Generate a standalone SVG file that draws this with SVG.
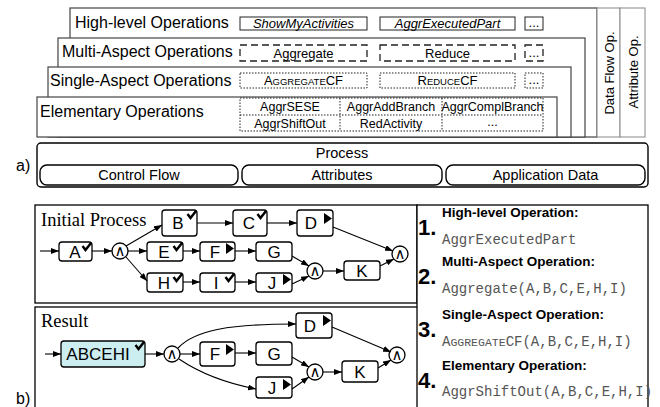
<svg xmlns="http://www.w3.org/2000/svg" width="660" height="407" viewBox="0 0 660 407">
<style>
text{font-family:"Liberation Sans",Arial,sans-serif;fill:#000}
.layer{fill:#fff;stroke:#444;stroke-width:1.2}
.col{fill:#fff;stroke:#888;stroke-width:1}
.lt{font-size:16px}
.hl{fill:#fff;stroke:#222;stroke-width:1}
.ma{fill:#fff;stroke:#222;stroke-width:1.3;stroke-dasharray:7 4}
.sa{fill:#fff;stroke:#222;stroke-width:1;stroke-dasharray:1.5 1.5}
.dl{fill:none;stroke:#222;stroke-width:1;stroke-dasharray:1.5 1.5}
.ot{font-size:13px;text-anchor:middle}
.it{font-style:italic}
.et{font-size:12.5px;text-anchor:middle}
.pt{font-size:14.5px;text-anchor:middle}
.proc{fill:#fff;stroke:#000;stroke-width:1.4}
.panel{fill:#fff;stroke:#000;stroke-width:1.3}
.pl{font-family:"Liberation Serif","Times New Roman",serif;font-size:18.5px}
.nd{fill:#fff;stroke:#000;stroke-width:1.3}
.res{fill:#cdeef0;stroke:#000;stroke-width:1.3}
.nt{font-size:17px;text-anchor:middle}
.gw{fill:#fff;stroke:#000;stroke-width:1.3}
.gt{font-family:"DejaVu Sans",sans-serif;font-size:15px;text-anchor:middle}
.chk{fill:none;stroke:#000;stroke-width:2.5;stroke-linejoin:miter}
.play{fill:#000}
.edge{fill:none;stroke:#000;stroke-width:1.1;marker-end:url(#arr)}
.num{font-size:22px;font-weight:bold}
.ttl{font-size:13.5px;font-weight:bold}
.mono{font-family:"Liberation Mono","Courier New",monospace;font-size:14px;fill:#555}
.lab{font-size:16px}
</style>
<defs>
<marker id="arr" markerWidth="8" markerHeight="6" refX="8" refY="3" orient="auto" markerUnits="userSpaceOnUse">
<path d="M0,0 L8,3 L0,6 z" fill="#000"/>
</marker>
<path id="chk" class="chk" d="M-9.5,4 L-6.5,8 L-1,1"/>
<path id="play" class="play" d="M-9,2 L-1,7.5 L-9,13 z"/>
</defs>

<!-- Panel a: layers -->
<g id="layer-high">
<rect class="layer" x="70" y="8" width="527" height="129"/>
<text class="lt" x="75" y="28">High-level Operations</text>
<rect class="hl" x="240" y="17" width="127" height="13"/>
<text class="ot it" x="303.5" y="28">ShowMyActivities</text>
<rect class="hl" x="380" y="17" width="135" height="13"/>
<text class="ot it" x="447.5" y="28">AggrExecutedPart</text>
<rect class="hl" x="525" y="17" width="18" height="13"/>
<text class="ot" x="534" y="27" font-size="10">...</text>
</g>
<g id="layer-multi">
<rect class="layer" x="58" y="38" width="527" height="99"/>
<text class="lt" x="62" y="57">Multi-Aspect Operations</text>
<rect class="ma" x="240" y="45" width="127" height="16"/>
<text class="ot" x="303.5" y="57.5">Aggregate</text>
<rect class="ma" x="380" y="45" width="135" height="16"/>
<text class="ot" x="447.5" y="57.5">Reduce</text>
<rect class="ma" x="525" y="45" width="18" height="16"/>
<text class="ot" x="534" y="57" font-size="10">...</text>
</g>
<g id="layer-single">
<rect class="layer" x="48" y="67" width="523" height="70"/>
<text class="lt" x="50" y="86">Single-Aspect Operations</text>
<rect class="sa" x="240" y="73" width="127" height="15"/>
<text class="ot" x="303.5" y="85">A<tspan font-size="9.5">GGREGATE</tspan>CF</text>
<rect class="sa" x="380" y="73" width="135" height="15"/>
<text class="ot" x="447.5" y="85">R<tspan font-size="9.5">EDUCE</tspan>CF</text>
<rect class="sa" x="525" y="73" width="18" height="15"/>
<text class="ot" x="534" y="84" font-size="10">...</text>
</g>
<g id="layer-elementary">
<rect class="layer" x="37" y="97" width="520" height="40"/>
<text class="lt" x="40" y="117">Elementary Operations</text>
<rect class="sa" x="240" y="98" width="303" height="33"/>
<path class="dl" d="M240,115 H543 M340,98 V131 M442,98 V131"/>
<text class="et" x="290" y="111">AggrSESE</text>
<text class="et" x="391" y="111">AggrAddBranch</text>
<text class="et" x="492.5" y="111" font-size="11.3">AggrComplBranch</text>
<text class="et" x="290" y="127.5">AggrShiftOut</text>
<text class="et" x="391" y="127.5">RedActivity</text>
<text class="et" x="492.5" y="126">...</text>
</g>
<g id="col-dataflow">
<rect class="col" x="597" y="8" width="23" height="129"/>
<text font-size="13" text-anchor="middle" transform="translate(613.5,73) rotate(-90)">Data Flow Op.</text>
</g>
<g id="col-attribute">
<rect class="col" x="620" y="8" width="25" height="129"/>
<text font-size="13" text-anchor="middle" transform="translate(637.5,72) rotate(-90)">Attribute Op.</text>
</g>

<g id="process">
<rect class="proc" x="37" y="143" width="611" height="44" rx="4"/>
<text class="pt" x="342" y="158">Process</text>
<rect class="proc" x="40" y="165" width="198" height="20" rx="7"/>
<text class="pt" x="139" y="180">Control Flow</text>
<rect class="proc" x="242" y="165" width="200" height="20" rx="7"/>
<text class="pt" x="342" y="180">Attributes</text>
<rect class="proc" x="446" y="165" width="199" height="20" rx="7"/>
<text class="pt" x="545.5" y="180">Application Data</text>
</g>
<text class="lab" x="16" y="171">a)</text>

<!-- Panel b -->
<g id="panel-initial">
<rect class="panel" x="35" y="205" width="382" height="98"/>
<text class="pl" x="41" y="226">Initial Process</text>
</g>
<g id="panel-result">
<rect class="panel" x="35" y="307" width="383" height="105"/>
<text class="pl" x="41" y="327">Result</text>
</g>
<g id="panel-ops">
<rect class="panel" x="417" y="205" width="231" height="207"/>
<text class="num" x="418" y="235">1.</text>
<text class="ttl" x="442" y="217">High-level Operation:</text>
<text class="mono" x="442" y="244">AggrExecutedPart</text>
<text class="num" x="418" y="284">2.</text>
<text class="ttl" x="442" y="266">Multi-Aspect Operation:</text>
<text class="mono" x="442" y="293">Aggregate(A,B,C,E,H,I)</text>
<text class="num" x="418" y="337">3.</text>
<text class="ttl" x="442" y="319">Single-Aspect Operation:</text>
<text class="mono" x="442" y="346">A<tspan font-size="11.5">GGREGATE</tspan>CF(A,B,C,E,H,I)</text>
<text class="num" x="418" y="388">4.</text>
<text class="ttl" x="442" y="370">Elementary Operation:</text>
<text class="mono" x="442" y="396">AggrShiftOut(A,B,C,E,H,I)</text>
</g>
<text class="lab" x="16" y="404">b)</text>

<!-- Initial process nodes -->
<g id="i-A"><rect class="nd" x="59" y="242" width="33" height="19" rx="3"/><text class="nt" x="75" y="258">A</text><use href="#chk" x="92" y="242"/></g>
<g id="i-g1"><circle class="gw" cx="120" cy="251" r="8"/><text class="gt" x="120" y="256">∧</text></g>
<g id="i-B"><rect class="nd" x="162" y="210" width="35" height="26" rx="3"/><text class="nt" x="178" y="229">B</text><use href="#chk" x="197" y="210"/></g>
<g id="i-C"><rect class="nd" x="233" y="210" width="34" height="26" rx="3"/><text class="nt" x="249" y="229">C</text><use href="#chk" x="267" y="210"/></g>
<g id="i-D"><rect class="nd" x="297" y="210" width="36" height="26" rx="3"/><text class="nt" x="311" y="229">D</text><use href="#play" x="333" y="211"/></g>
<g id="i-E"><rect class="nd" x="147" y="242" width="36" height="19" rx="3"/><text class="nt" x="164" y="258">E</text><use href="#chk" x="183" y="242"/></g>
<g id="i-F"><rect class="nd" x="200" y="242" width="35" height="19" rx="3"/><text class="nt" x="215" y="258">F</text><use href="#play" x="235" y="241"/></g>
<g id="i-G"><rect class="nd" x="256" y="242" width="36" height="19" rx="3"/><text class="nt" x="274" y="258">G</text></g>
<g id="i-H"><rect class="nd" x="147" y="273" width="36" height="19" rx="3"/><text class="nt" x="164" y="289">H</text><use href="#chk" x="183" y="273"/></g>
<g id="i-I"><rect class="nd" x="200" y="273" width="35" height="19" rx="3"/><text class="nt" x="216" y="289">I</text><use href="#chk" x="235" y="273"/></g>
<g id="i-J"><rect class="nd" x="256" y="273" width="36" height="19" rx="3"/><text class="nt" x="272" y="289">J</text><use href="#play" x="292" y="272"/></g>
<g id="i-g2"><circle class="gw" cx="315" cy="271" r="8"/><text class="gt" x="315" y="276">∧</text></g>
<g id="i-K"><rect class="nd" x="344" y="261" width="36" height="19" rx="3"/><text class="nt" x="362" y="277">K</text></g>
<g id="i-g3"><circle class="gw" cx="400" cy="254" r="8"/><text class="gt" x="400" y="259">∧</text></g>

<!-- Result nodes -->
<g id="r-ABCEHI"><rect class="res" x="61" y="341" width="84" height="26" rx="3"/><text class="nt" x="98" y="360">ABCEHI</text><use href="#chk" x="145" y="341"/></g>
<g id="r-g1"><circle class="gw" cx="172" cy="354" r="8"/><text class="gt" x="172" y="359">∧</text></g>
<g id="r-D"><rect class="nd" x="296" y="313" width="36" height="25" rx="3"/><text class="nt" x="310" y="332">D</text><use href="#play" x="332" y="313"/></g>
<g id="r-F"><rect class="nd" x="200" y="342" width="35" height="24" rx="3"/><text class="nt" x="215" y="360">F</text><use href="#play" x="235" y="342"/></g>
<g id="r-G"><rect class="nd" x="256" y="342" width="36" height="23" rx="3"/><text class="nt" x="274" y="360">G</text></g>
<g id="r-J"><rect class="nd" x="256" y="377" width="36" height="21" rx="3"/><text class="nt" x="272" y="394">J</text><use href="#play" x="292" y="377"/></g>
<g id="r-g2"><circle class="gw" cx="315" cy="372" r="8"/><text class="gt" x="315" y="377">∧</text></g>
<g id="r-K"><rect class="nd" x="342" y="361" width="36" height="21" rx="3"/><text class="nt" x="360" y="378">K</text></g>
<g id="r-g3"><circle class="gw" cx="397" cy="355" r="8"/><text class="gt" x="397" y="360">∧</text></g>

<g id="connectors">
<path class="edge" d="M40,251 H59"/>
<path class="edge" d="M92,251 H112"/>
<path class="edge" d="M126,246 L162,225"/>
<path class="edge" d="M128,251 H147"/>
<path class="edge" d="M126,257 L147,281"/>
<path class="edge" d="M197,223 H233"/>
<path class="edge" d="M267,223 H297"/>
<path class="edge" d="M333,227 L393,251"/>
<path class="edge" d="M183,251 H200"/>
<path class="edge" d="M235,251 H256"/>
<path class="edge" d="M183,282 H200"/>
<path class="edge" d="M235,282 H256"/>
<path class="edge" d="M292,256 L309,266"/>
<path class="edge" d="M292,284 L309,276"/>
<path class="edge" d="M323,271 H344"/>
<path class="edge" d="M380,266 L394,259"/>

<path class="edge" d="M45,354 H61"/>
<path class="edge" d="M145,354 H164"/>
<path class="edge" d="M180,354 H200"/>
<path class="edge" d="M178,348 C195,330 230,324 296,324"/>
<path class="edge" d="M179,359 Q210,380 256,389"/>
<path class="edge" d="M235,353 H256"/>
<path class="edge" d="M292,357 L309,367"/>
<path class="edge" d="M292,389 L309,377"/>
<path class="edge" d="M323,372 H342"/>
<path class="edge" d="M332,327 L391,352"/>
<path class="edge" d="M378,368 L391,360"/>
</g>
</svg>
